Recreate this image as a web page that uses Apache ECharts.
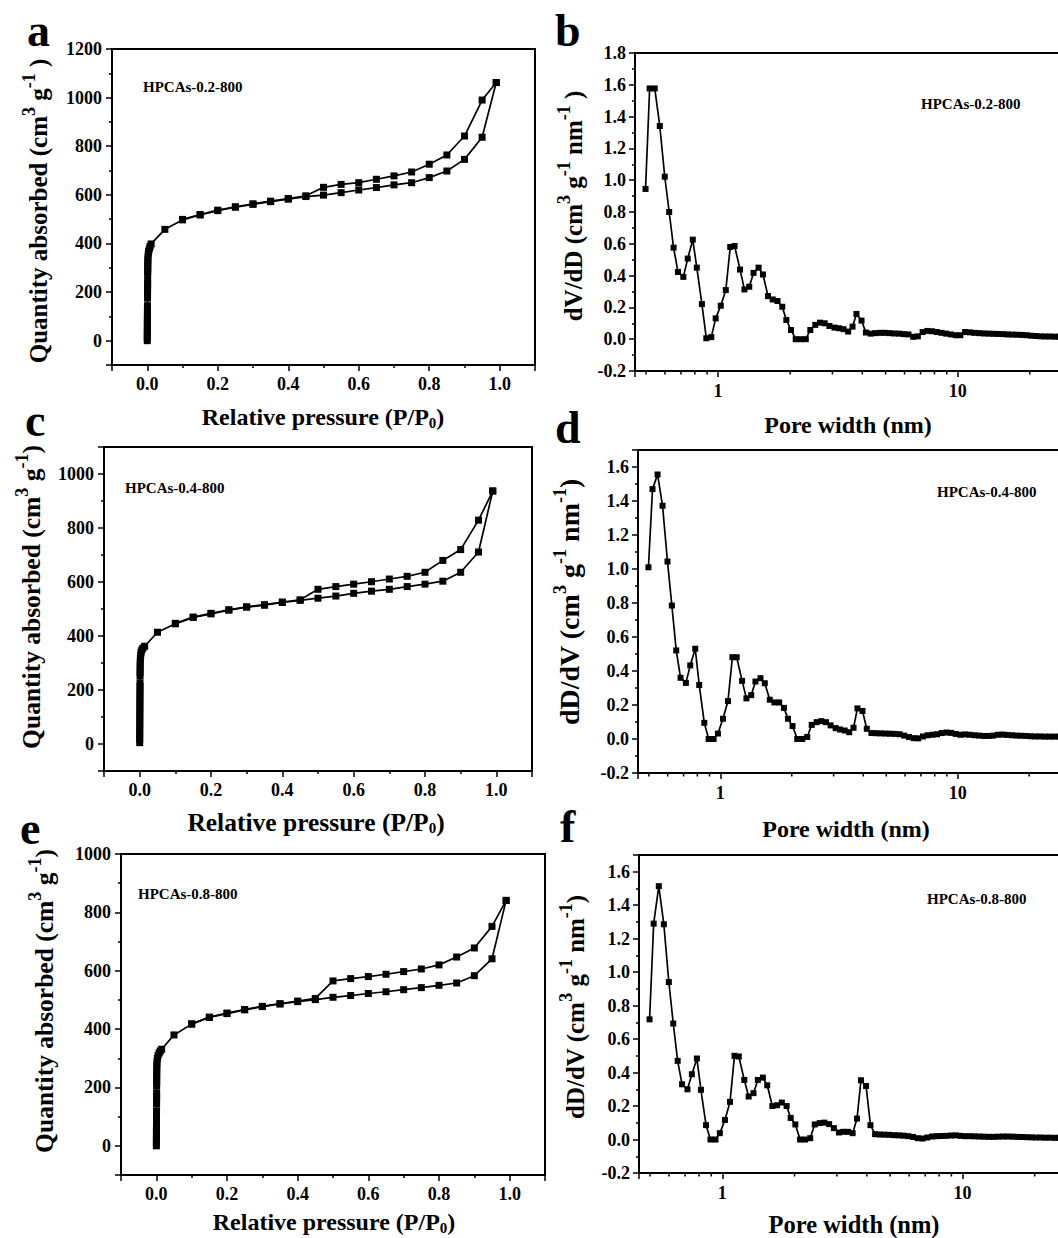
<!DOCTYPE html>
<html>
<head>
<meta charset="utf-8">
<title>HPCAs isotherms and pore size distributions</title>
<script src="https://cdn.jsdelivr.net/npm/echarts@6/dist/echarts.min.js"></script>
<style>
  html, body { margin: 0; padding: 0; background: #fff; overflow: hidden; }
  #chart { width: 1058px; height: 1238px; }
</style>
</head>
<body>
<div id="chart"></div>
<script>
// N2 isotherms, [P/P0, quantity absorbed (cm3/g)]
const adsA = [[0,0],[0.0001,12],[0.0001,24],[0.0002,36],[0.0002,48],[0.0003,60],[0.0003,72],[0.0004,84],[0.0004,96],[0.0005,108],[0.0005,120],[0.0006,132],[0.0006,144],[0.0007,175],[0.0008,187],[0.0008,199],[0.0009,211],[0.001,223],[0.001,235],[0.0011,247],[0.0012,272],[0.0013,284],[0.0014,296],[0.0015,308],[0.0016,320],[0.0018,332],[0.002,344],[0.003,358],[0.004,368],[0.006,378],[0.008,388],[0.011,398],
  [0.05,458],[0.1,497],[0.15,517],[0.2,535],[0.25,549],[0.3,561],[0.35,572],[0.4,582],[0.45,593],[0.5,599],[0.55,609],[0.6,620],[0.65,630],[0.7,641],[0.75,650],[0.8,671],[0.85,698],[0.9,746],[0.95,837],[0.99,1062]];
const desA = [[0.99,1062],[0.95,990],[0.9,842],[0.85,764],[0.8,726],[0.75,694],[0.7,678],[0.65,664],[0.6,650],[0.55,643],[0.5,631],[0.45,596],[0.4,585],[0.35,574],[0.3,563],[0.25,551],[0.2,537],[0.15,519],[0.1,499]];

const adsC = [[0.0001,5],[0.0001,18],[0.0002,31],[0.0002,44],[0.0003,57],[0.0003,70],[0.0004,83],[0.0004,96],[0.0005,109],[0.0005,122],[0.0006,135],[0.0006,148],[0.0007,161],[0.0008,174],[0.0008,187],[0.0009,200],[0.001,213],[0.001,226],[0.0011,252],[0.0012,265],[0.0013,278],[0.0014,291],[0.0016,304],[0.002,317],[0.003,330],[0.004,340],[0.006,348],[0.009,355],[0.014,362],
  [0.05,414],[0.1,445],[0.15,469],[0.2,482],[0.25,496],[0.3,507],[0.35,514],[0.4,524],[0.45,532],[0.5,540],[0.55,548],[0.6,558],[0.65,566],[0.7,573],[0.75,583],[0.8,592],[0.85,603],[0.9,636],[0.95,711],[0.99,937]];
const desC = [[0.99,937],[0.95,829],[0.9,720],[0.85,680],[0.8,636],[0.75,621],[0.7,611],[0.65,601],[0.6,592],[0.55,583],[0.5,573],[0.45,534],[0.4,526],[0.35,516],[0.3,508],[0.25,497],[0.2,484],[0.15,470],[0.1,447]];

const adsE = [[0.0001,0],[0.0001,12],[0.0002,24],[0.0002,36],[0.0003,48],[0.0003,60],[0.0004,72],[0.0004,84],[0.0005,96],[0.0005,108],[0.0006,120],[0.0007,145],[0.0007,157],[0.0008,169],[0.0008,181],[0.0009,205],[0.001,217],[0.001,229],[0.0011,241],[0.0012,253],[0.0013,265],[0.0015,277],[0.002,289],[0.003,300],[0.005,310],[0.008,318],[0.011,325],[0.015,331],
  [0.05,380],[0.1,417],[0.15,440],[0.2,453],[0.25,466],[0.3,477],[0.35,486],[0.4,494],[0.45,501],[0.5,509],[0.55,515],[0.6,522],[0.65,528],[0.7,535],[0.75,542],[0.8,550],[0.85,558],[0.9,583],[0.95,641],[0.99,841]];
const desE = [[0.99,841],[0.95,752],[0.9,678],[0.85,647],[0.8,620],[0.75,606],[0.7,597],[0.65,588],[0.6,580],[0.55,573],[0.5,565],[0.45,505],[0.4,496],[0.35,487],[0.3,478],[0.25,467],[0.2,455],[0.15,441],[0.1,418]];

// pore size distributions (same DFT pore widths, nm)
const poreWidth = [0.498,0.518,0.544,0.571,0.599,0.625,0.652,0.680,0.716,0.747,0.784,0.815,0.856,0.893,0.937,0.977,1.026,1.077,1.124,1.172,
  1.235,1.288,1.349,1.406,1.476,1.539,1.616,1.69,1.77,1.853,1.927,2.015,2.109,2.213,2.323,2.426,2.545,2.663,2.786,2.915,
  3.06,3.19,3.34,3.49,3.64,3.78,3.97,4.14,4.33,4.53,4.74,4.96,5.19,5.44,5.69,5.95,6.23,6.52,6.82,7.14,
  7.47,7.82,8.18,8.56,8.96,9.37,9.81,10.26,10.74,11.24,11.76,12.31,12.88,13.48,14.11,14.76,15.44,16.16,16.91,17.70,
  18.52,19.38,20.28,21.22,22.21,23.24,24.32,25.44,26.6,27.8];
const psdB = [0.945,1.577,1.577,1.341,1.022,0.80,0.576,0.423,0.392,0.507,0.626,0.45,0.221,0.006,0.013,0.131,0.211,0.309,0.58,0.586,
  0.438,0.313,0.33,0.417,0.45,0.407,0.271,0.25,0.24,0.204,0.121,0.058,0.0,0.0,0.0,0.058,0.09,0.104,0.1,0.083,
  0.073,0.069,0.063,0.048,0.079,0.159,0.117,0.042,0.035,0.038,0.04,0.04,0.038,0.036,0.035,0.032,0.03,0.015,0.018,0.045,
  0.052,0.05,0.045,0.04,0.035,0.03,0.025,0.025,0.045,0.043,0.04,0.038,0.036,0.035,0.034,0.033,0.032,0.03,0.029,0.028,
  0.027,0.025,0.022,0.02,0.018,0.017,0.017,0.016,0.016,0.015];
const psdD = [1.01,1.47,1.556,1.372,1.044,0.785,0.521,0.36,0.33,0.433,0.531,0.318,0.095,0.0,0.0,0.032,0.119,0.223,0.481,0.481,
  0.342,0.239,0.258,0.338,0.358,0.328,0.231,0.215,0.215,0.183,0.119,0.076,0.0,0.0,0.012,0.083,0.099,0.105,0.099,0.08,
  0.064,0.056,0.05,0.04,0.066,0.18,0.165,0.06,0.035,0.034,0.033,0.032,0.031,0.03,0.028,0.02,0.012,0.005,0.004,0.015,
  0.022,0.025,0.028,0.035,0.038,0.036,0.03,0.025,0.027,0.025,0.022,0.02,0.018,0.018,0.02,0.025,0.026,0.024,0.022,0.02,
  0.019,0.018,0.016,0.015,0.015,0.014,0.014,0.014,0.014,0.013];
const psdF = [0.718,1.29,1.514,1.286,0.941,0.693,0.47,0.33,0.30,0.39,0.484,0.297,0.086,0.0,0.0,0.038,0.117,0.225,0.5,0.496,
  0.356,0.257,0.277,0.356,0.37,0.324,0.20,0.205,0.221,0.2,0.129,0.09,0.0,0.0,0.008,0.09,0.098,0.101,0.092,0.068,
  0.042,0.046,0.046,0.038,0.125,0.354,0.32,0.086,0.032,0.03,0.029,0.028,0.026,0.025,0.023,0.02,0.015,0.008,0.006,0.012,
  0.018,0.02,0.021,0.022,0.024,0.025,0.022,0.02,0.02,0.019,0.018,0.017,0.016,0.016,0.017,0.018,0.018,0.017,0.016,0.015,
  0.014,0.013,0.012,0.012,0.011,0.011,0.01,0.01,0.01,0.01];

// tick values
const logMajorLabels = [1, 10];
const logMinorTickVals = [0.5,0.6,0.7,0.8,0.9,2,3,4,5,6,7,8,9,20,30];
const samples = ['HPCAs-0.2-800', 'HPCAs-0.4-800', 'HPCAs-0.8-800'];

const FONT = '"Liberation Serif", "Times New Roman", serif';
const chart = echarts.init(document.getElementById('chart'), null, {renderer: 'svg'});

// panel boxes: a, b, c, d, e, f
const grids = [
  {left: 112, top: 49, width: 423, height: 316},
  {left: 635, top: 53, width: 437, height: 318},
  {left: 104, top: 447, width: 428, height: 324},
  {left: 638, top: 450, width: 433, height: 323},
  {left: 121, top: 854, width: 424, height: 321},
  {left: 639, top: 855, width: 438, height: 318}
].map(g => Object.assign({show: true, borderColor: '#000', borderWidth: 2, outerBoundsMode: 'none', containLabel: false}, g));

function onStep(v, step) {
  const k = v / step;
  return Math.abs(k - Math.round(k)) < 1e-6;
}

const axisLine = {onZero: false, lineStyle: {color: '#000', width: 2}};
const tick = {length: 6, lineStyle: {color: '#000', width: 1.5}};
const minor = {show: true, splitNumber: 2, length: 3, lineStyle: {color: '#000', width: 1.5}};
const labelStyle = {color: '#000', fontFamily: FONT, fontWeight: 'bold', fontSize: 18};

function isoX(gi) {
  return {
    type: 'value', gridIndex: gi, min: -0.1, max: 1.1, splitNumber: 6, minInterval: 0.2, maxInterval: 0.2,
    axisLine, axisTick: tick, minorTick: minor, splitLine: {show: false},
    axisLabel: Object.assign({margin: 10, formatter: v => onStep(v, 0.2) ? v.toFixed(1) : ''}, labelStyle)
  };
}
function isoY(gi, max) {
  return {
    type: 'value', gridIndex: gi, min: -100, max: max, splitNumber: 6, minInterval: 200, maxInterval: 200,
    axisLine, axisTick: tick, minorTick: minor, splitLine: {show: false},
    axisLabel: Object.assign({margin: 10, formatter: v => v % 200 === 0 ? String(v) : ''}, labelStyle)
  };
}
function psdX(gi) {
  return {
    type: 'log', logBase: 10, gridIndex: gi, min: 0.45, max: 30,
    axisLine, axisTick: tick, splitLine: {show: false},
    axisLabel: Object.assign({margin: 11, formatter: v => logMajorLabels.indexOf(v) >= 0 ? String(v) : ''}, labelStyle)
  };
}
function psdY(gi, max) {
  return {
    type: 'value', gridIndex: gi, min: -0.2, max: max, interval: 0.2,
    axisLine, axisTick: tick, minorTick: minor, splitLine: {show: false},
    axisLabel: Object.assign({margin: 9, formatter: v => onStep(v, 0.2) ? v.toFixed(1) : ''}, labelStyle)
  };
}

function lineSeries(data, gi, size) {
  return {
    type: 'line', xAxisIndex: gi, yAxisIndex: gi, data: data,
    symbol: 'rect', symbolSize: size, showAllSymbol: true, silent: true,
    lineStyle: {color: '#000', width: 1.7}, itemStyle: {color: '#000'}
  };
}
function psdSeries(values, gi) {
  return lineSeries(poreWidth.map((w, i) => [w, values[i]]), gi, 6);
}
function logMinorTicks(gi) {
  return {
    type: 'custom', xAxisIndex: gi, yAxisIndex: gi, silent: true, clip: false,
    data: logMinorTickVals.map(v => [v, -0.2]),
    renderItem: function (params, api) {
      const p = api.coord([api.value(0), api.value(1)]);
      return {type: 'line', shape: {x1: p[0], y1: p[1], x2: p[0], y2: p[1] + 3.5},
        style: {stroke: '#000', lineWidth: 1.5}};
    }
  };
}

const RICH = {
  sup: {fontSize: 18, fontWeight: 'bold', fontFamily: FONT, verticalAlign: 'top', lineHeight: 18, fill: '#000'},
  sub: {fontSize: 15, fontWeight: 'bold', fontFamily: FONT, verticalAlign: 'bottom', lineHeight: 13, fill: '#000'}
};
function txt(text, x, y, size, opts) {
  opts = opts || {};
  return {
    type: 'text', x: x, y: y, rotation: opts.rotate ? Math.PI / 2 : 0, silent: true, z: 10,
    style: {
      text: text, rich: RICH, fill: '#000', fontFamily: FONT, fontWeight: 'bold', fontSize: size,
      lineHeight: opts.lineHeight || size,
      align: opts.align || 'left', textAlign: opts.align || 'left',
      verticalAlign: 'middle', textVerticalAlign: 'middle'
    }
  };
}
function xTitle(text, x, y, size) {
  return txt(text, x, y, size, {align: 'center', lineHeight: 26});
}
function yTitle(text, x, y, size) {
  return txt(text, x, y, size, {align: 'center', rotate: true, lineHeight: 36});
}

const yIso = 'Quantity absorbed (cm{sup|3} g{sup|-1})';
const yPsd = 'dD/dV (cm{sup|3} g{sup|-1} nm{sup|-1})';
const xIso = 'Relative pressure (P/P{sub|0})';
const xPsd = 'Pore width (nm)';

const graphics = [
  // panel letters
  txt('a', 27, 30, 46), txt('b', 555, 30, 46), txt('c', 25, 420, 46),
  txt('d', 555, 427, 46), txt('e', 20, 828, 46), txt('f', 560, 826, 46),
  // sample names
  txt(samples[0], 143, 87, 15), txt(samples[0], 921, 104, 15),
  txt(samples[1], 125, 488, 15), txt(samples[1], 937, 492, 15),
  txt(samples[2], 138, 894, 15), txt(samples[2], 927, 899, 15),
  // x titles
  xTitle(xIso, 323, 417, 24),
  xTitle(xPsd, 848, 425, 24),
  xTitle(xIso, 316, 822, 25.5),
  xTitle(xPsd, 846, 829, 24),
  xTitle(xIso, 334, 1222, 24),
  xTitle(xPsd, 854, 1224, 24.5),
  // y titles
  yTitle('Quantity absorbed (cm{sup|3} g{sup|-1} )', 38, 211, 25),
  yTitle('dV/dD (cm{sup|3} g{sup|-1} nm{sup|-1} )', 573, 206, 25),
  yTitle(yIso, 31, 597, 25.5),
  yTitle(yPsd, 569, 602, 28),
  yTitle(yIso, 44, 1001, 25.5),
  yTitle(yPsd, 575, 1007, 25)
];

chart.setOption({
  animation: false,
  grid: grids,
  xAxis: [isoX(0), psdX(1), isoX(2), psdX(3), isoX(4), psdX(5)],
  yAxis: [isoY(0, 1200), psdY(1, 1.8), isoY(2, 1100), psdY(3, 1.7), isoY(4, 1000), psdY(5, 1.7)],
  series: [
    lineSeries(adsA, 0, 7), lineSeries(desA, 0, 7),
    psdSeries(psdB, 1), logMinorTicks(1),
    lineSeries(adsC, 2, 7), lineSeries(desC, 2, 7),
    psdSeries(psdD, 3), logMinorTicks(3),
    lineSeries(adsE, 4, 7), lineSeries(desE, 4, 7),
    psdSeries(psdF, 5), logMinorTicks(5)
  ],
  graphic: {elements: graphics}
});
</script>
</body>
</html>
